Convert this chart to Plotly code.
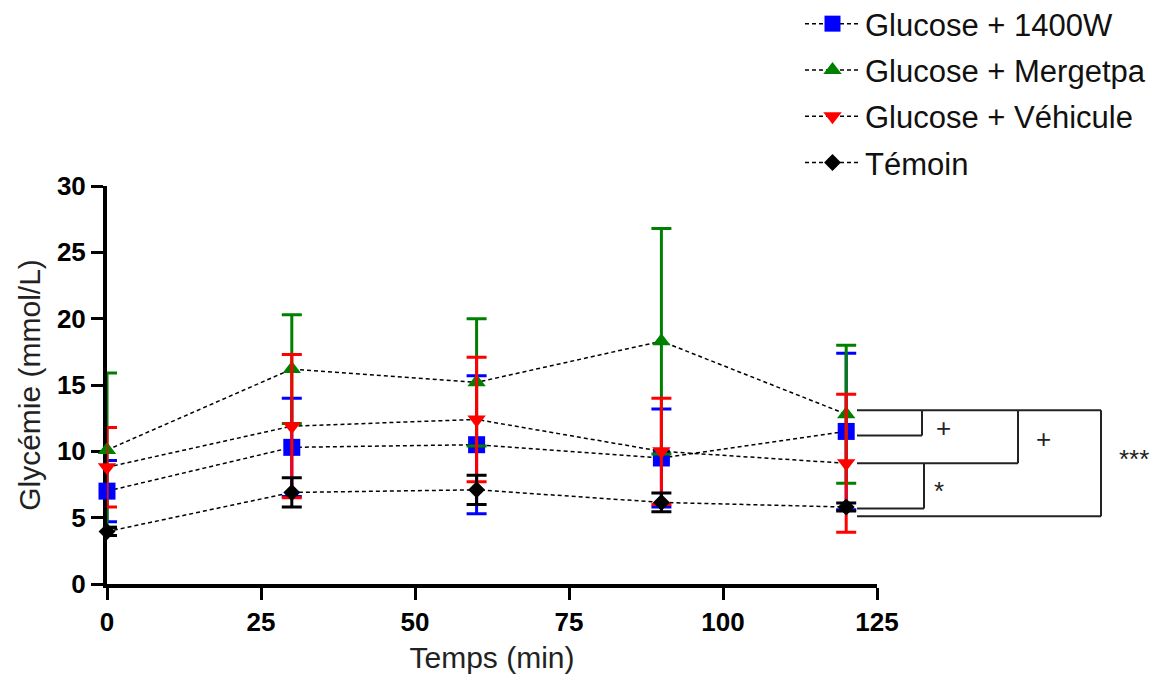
import plotly.graph_objects as go

# ---------------- data ----------------
time_min = [0, 30, 60, 90, 120]

labels = ["Glucose + 1400W", "Glucose + Mergetpa", "Glucose + Véhicule", "Témoin"]

glc_1400w = [7.0, 10.3, 10.5, 9.5, 11.5]
glc_1400w_err = [2.3, 3.7, 5.2, 3.7, 5.9]

glc_mergetpa = [10.1, 16.2, 15.2, 18.3, 12.8]
glc_mergetpa_err = [5.8, 4.1, 4.8, 8.5, 5.2]

glc_vehicule = [8.8, 11.9, 12.4, 10.0, 9.1]
glc_vehicule_err = [3.0, 5.4, 4.7, 4.0, 5.2]

temoin = [3.95, 6.9, 7.1, 6.15, 5.8]
temoin_err = [0.3, 1.1, 1.1, 0.7, 0.3]

x_ticks = [0, 25, 50, 75, 100, 125]
y_ticks = [0, 5, 10, 15, 20, 25, 30]

# ---------------- style ----------------
series = [
    (labels[0], glc_1400w, glc_1400w_err, "#0000ff", "square", 17),
    (labels[1], glc_mergetpa, glc_mergetpa_err, "#008000", "triangle-up", 16),
    (labels[2], glc_vehicule, glc_vehicule_err, "#ff0000", "triangle-down", 16),
    (labels[3], temoin, temoin_err, "#000000", "diamond", 13),
]

FONT = "Liberation Sans, Arial, sans-serif"

fig = go.Figure()
for i, (name, vals, errs, col, sym, sz) in enumerate(series):
    fig.add_trace(go.Scatter(
        x=time_min, y=vals, name=name, mode="lines+markers",
        legendgroup=f"g{i}",
        line=dict(color="black", width=1.5, dash="4px,3px"),
        marker=dict(color=col, symbol=sym, size=sz, line=dict(width=0)),
        error_y=dict(type="data", array=errs, visible=True, color=col,
                     thickness=3, width=10),
        cliponaxis=False,
    ))

L, R_M, T, B = 107, 40, 186, 96
W = 1172 - L - R_M
H = 680 - T - B
x_dom_end = (877 - L) / W

fig.update_layout(
    width=1172, height=680,
    margin=dict(l=L, r=R_M, t=T, b=B, autoexpand=False),
    paper_bgcolor="white", plot_bgcolor="white",
    font=dict(family=FONT, color="black"),
    showlegend=True,
    legend=dict(
        x=(800 - L) / W, y=1 + (T + 3) / H,
        xanchor="left", yanchor="top",
        font=dict(size=31, color="#111111", family=FONT),
        bgcolor="rgba(0,0,0,0)", itemwidth=55,
        traceorder="grouped", tracegroupgap=3,
    ),
    xaxis=dict(
        domain=[0, x_dom_end], range=[0, 125],
        tickvals=x_ticks, ticktext=[str(v) for v in x_ticks],
        showgrid=False, zeroline=False,
        showline=True, linecolor="black", linewidth=4,
        ticks="outside", ticklen=12, tickwidth=3, tickcolor="black",
        tickfont=dict(size=26, family=FONT, weight="bold", color="black"),
        title=dict(text="Temps (min)", font=dict(size=30, color="#222222"), standoff=12),
        layer="below traces",
    ),
    yaxis=dict(
        range=[0, 30], tickvals=y_ticks,
        showgrid=False, zeroline=False,
        showline=True, linecolor="black", linewidth=4,
        ticks="outside", ticklen=12, tickwidth=3, tickcolor="black",
        tickfont=dict(size=26, family=FONT, weight="bold", color="black"),
        title=dict(text="Glycémie (mmol/L)", font=dict(size=30, color="#222222"), standoff=8),
        layer="below traces",
    ),
)

# ---------------- significance brackets ----------------
def px(xp):
    return (xp - L) / W

lv_top = glc_mergetpa[-1] + 0.3
lv_blue = glc_1400w[-1] - 0.3
lv_red = glc_vehicule[-1]
lv_black = temoin[-1] - 0.1
lv_bottom = temoin[-1] - 0.7

x_start = px(857)
x_v1 = px(922)
x_v2 = px(1018)
x_v3 = px(1101)
x_v4 = px(924)

segs = [
    (x_start, lv_top, x_v3, lv_top),
    (x_start, lv_blue, x_v1, lv_blue),
    (x_v1, lv_top, x_v1, lv_blue),
    (x_start, lv_red, x_v2, lv_red),
    (x_v2, lv_top, x_v2, lv_red),
    (x_start, lv_black, x_v4, lv_black),
    (x_v4, lv_red, x_v4, lv_black),
    (x_start, lv_bottom, x_v3, lv_bottom),
    (x_v3, lv_top, x_v3, lv_bottom),
]
for x0, y0, x1, y1 in segs:
    fig.add_shape(type="line", xref="paper", yref="y", x0=x0, y0=y0, x1=x1, y1=y1,
                  line=dict(color="#222222", width=2))

for txt, xp, yv in [("+", 934, (lv_top + lv_blue) / 2 - 0.38),
                    ("+", 1034, (lv_top + lv_red) / 2 - 0.2),
                    ("*", 932, (lv_red + lv_black) / 2 - 0.37),
                    ("***", 1117, (lv_top + lv_bottom) / 2 + 0.35)]:
    fig.add_annotation(text=txt, xref="paper", yref="y", x=px(xp), y=yv,
                       xanchor="left", showarrow=False,
                       font=dict(size=26, color="#222222", family=FONT))

fig.write_html("out.html")
